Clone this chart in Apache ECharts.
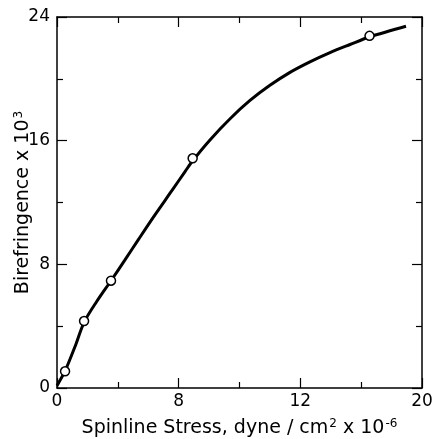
<!DOCTYPE html>
<html>
<head>
<meta charset="utf-8">
<script src="https://cdn.jsdelivr.net/npm/echarts@6/dist/echarts.min.js"></script>
<style>html,body{margin:0;padding:0;background:#fff}#c{width:433px;height:439px}</style>
</head>
<body>
<div id="c"></div>
<script>
// measured points
const pointX = [0.53, 1.78, 3.55, 8.92, 20.55];
const pointY = [1.08, 4.33, 6.94, 14.86, 22.78];
// fitted curve
const curveX = [0, 0.53, 1.2, 1.78, 2.6, 3.55, 4.47, 5.35, 6.44, 7.54, 8.42, 8.92, 10.06, 11.38, 12.69, 14.0, 15.32, 16.63, 17.95, 19.27, 20.58, 22.95];
const curveY = [0.15, 1.1, 2.72, 4.25, 5.58, 6.94, 8.29, 9.6, 11.2, 12.75, 14.0, 14.7, 16.05, 17.42, 18.6, 19.58, 20.42, 21.1, 21.7, 22.22, 22.72, 23.4];
// tick labels as printed
const xTickLabels = ['0', '8', '12', '20'];
const yTickLabels = ['0', '8', '16', '24'];

const font = 'DejaVu Sans';
const supStyle = { fontSize: 12, verticalAlign: 'top', padding: [0, 0, 8, 1], fontFamily: font, color: '#000' };
const chart = echarts.init(document.getElementById('c'));
function axis(extra) {
  return Object.assign({
    type: 'value', min: 0, max: 24, interval: 8,
    splitLine: { show: false },
    axisLine: { show: true, onZero: false, lineStyle: { color: '#000', width: 1.5 } },
    axisTick: { show: true, inside: true, length: 10, lineStyle: { color: '#000', width: 1.2 } },
    minorTick: { show: true, splitNumber: 2, length: 6, lineStyle: { color: '#000', width: 1.2 } },
    minorSplitLine: { show: false }
  }, extra);
}
chart.setOption({
  animation: false,
  backgroundColor: '#fff',
  grid: { left: 57, right: 11, top: 17, bottom: 51, show: false, outerBoundsMode: 'none', containLabel: false },
  xAxis: [
    axis({
      position: 'bottom',
      axisLabel: { color: '#000', fontFamily: font, fontSize: 17, margin: 5,
        formatter: v => xTickLabels[Math.round(v / 8)] },
      name: 'Spinline Stress, dyne / cm{sup|2} x 10{sup|-6}',
      nameLocation: 'middle', nameGap: 30, nameMoveOverlap: false,
      nameTextStyle: { color: '#000', fontFamily: font, fontSize: 19, rich: { sup: supStyle } }
    }),
    axis({ position: 'top', axisLabel: { show: false } })
  ],
  yAxis: [
    axis({
      position: 'left',
      axisLabel: { color: '#000', fontFamily: font, fontSize: 17, margin: 7,
        formatter: v => yTickLabels[Math.round(v / 8)] },
      name: 'Birefringence x 10{sup|3}',
      nameLocation: 'middle', nameGap: 24, nameMoveOverlap: false,
      nameTextStyle: { color: '#000', fontFamily: font, fontSize: 19, rich: { sup: supStyle } }
    }),
    axis({ position: 'right', axisLabel: { show: false } })
  ],
  series: [
    {
      type: 'line', smooth: 0.3, showSymbol: false,
      data: curveX.map((x, i) => [x, curveY[i]]),
      lineStyle: { color: '#000', width: 3 }, z: 2
    },
    {
      type: 'scatter', symbol: 'circle', symbolSize: 9,
      data: pointX.map((x, i) => [x, pointY[i]]),
      itemStyle: { color: '#fff', borderColor: '#000', borderWidth: 1.5, opacity: 1 }, z: 3
    }
  ]
});
</script>
</body>
</html>
